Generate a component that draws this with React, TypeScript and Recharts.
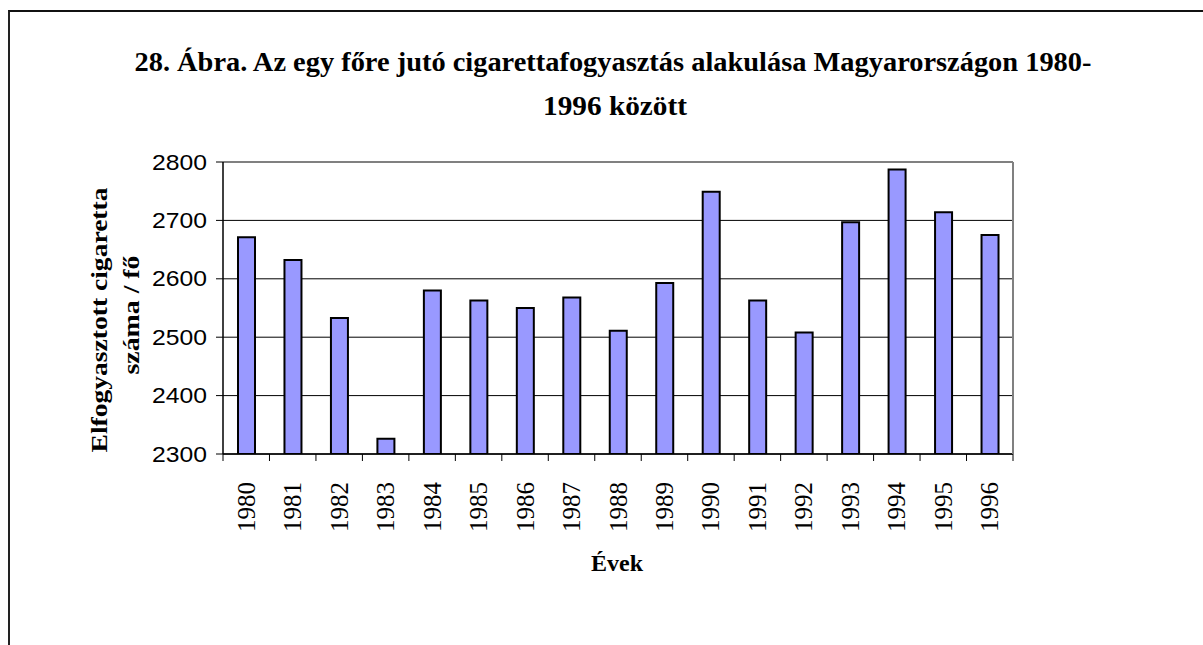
import React from 'react';
import {
  BarChart, Bar, XAxis, YAxis, CartesianGrid, ReferenceLine,
} from 'recharts';

const YEARS = [
  '1980', '1981', '1982', '1983', '1984', '1985', '1986', '1987', '1988',
  '1989', '1990', '1991', '1992', '1993', '1994', '1995', '1996',
];

// cigarettes smoked per person per year
const CONSUMPTION = [
  2671, 2632, 2533, 2326, 2580, 2563, 2550, 2568, 2511,
  2593, 2749, 2563, 2508, 2697, 2787, 2714, 2675,
];

const Y_TICKS = [2300, 2400, 2500, 2600, 2700, 2800];

const TITLE_LINES = [
  '28. Ábra. Az egy főre jutó cigarettafogyasztás alakulása Magyarországon 1980-',
  '1996 között',
];
const Y_TITLE_LINES = ['Elfogyasztott cigaretta', 'száma / fő'];
const X_TITLE = 'Évek';

const W = 1203;
const H = 645;
const PLOT_LEFT = 223;
const PLOT_RIGHT = 1013;
const PLOT_TOP = 162;
const PLOT_BOTTOM = 454;
const Y_AXIS_W = 70;
const X_AXIS_H = 110;
const BAND = (PLOT_RIGHT - PLOT_LEFT) / YEARS.length;

const SERIF = '"Liberation Serif", "Times New Roman", serif';
const SANS = '"Liberation Sans", Arial, sans-serif';

const data = YEARS.map((year, i) => ({ year, value: CONSUMPTION[i] }));

// year labels stand vertically; tick marks sit on the category boundaries
const XTick = ({ x, y, payload, index }: any) => {
  const half = BAND / 2;
  const ty = y + 28;
  return (
    <g>
      <line x1={x - half} x2={x - half} y1={y} y2={y + 7} stroke="#000" />
      {index === YEARS.length - 1 && (
        <line x1={x + half} x2={x + half} y1={y} y2={y + 7} stroke="#000" />
      )}
      <text
        x={x}
        y={ty}
        transform={`rotate(-90 ${x} ${ty})`}
        textAnchor="end"
        dominantBaseline="central"
        fontFamily={SERIF}
        fontSize={25}
        fill="#000"
      >
        {payload.value}
      </text>
    </g>
  );
};

const YTick = ({ x, y, payload }: any) => (
  <text
    x={x}
    y={y}
    textAnchor="end"
    dominantBaseline="central"
    fontFamily={SANS}
    fontSize={22}
    textLength={55}
    lengthAdjust="spacingAndGlyphs"
    fill="#000"
  >
    {payload.value}
  </text>
);

export default function App() {
  return (
    <div style={{ position: 'fixed', left: 0, top: 0, width: W, height: H, overflow: 'hidden', background: '#fff' }}>
      <div
        style={{
          position: 'absolute', left: 8, top: 10, width: 1300, height: 700,
          borderTop: '2px solid #111', borderLeft: '2px solid #222',
        }}
      />
      <div style={{ position: 'absolute', left: 0, top: 0 }}>
        <BarChart
          width={W}
          height={H}
          data={data}
          margin={{
            top: PLOT_TOP,
            left: PLOT_LEFT - Y_AXIS_W,
            right: W - PLOT_RIGHT - 1,
            bottom: H - PLOT_BOTTOM - X_AXIS_H,
          }}
        >
          <CartesianGrid vertical={false} stroke="#000" strokeWidth={1} />
          <XAxis
            dataKey="year"
            interval={0}
            height={X_AXIS_H}
            axisLine={{ stroke: '#000', strokeWidth: 1.5 }}
            tickLine={false}
            tickSize={0}
            tickMargin={0}
            tick={<XTick />}
          />
          <YAxis
            domain={[2300, 2800]}
            ticks={Y_TICKS}
            width={Y_AXIS_W}
            axisLine={{ stroke: '#000', strokeWidth: 1.5 }}
            tickLine={{ stroke: '#000' }}
            tickSize={7}
            tickMargin={9}
            tick={<YTick />}
            allowDataOverflow
          />
          <YAxis
            yAxisId="right"
            orientation="right"
            domain={[2300, 2800]}
            width={1}
            axisLine={{ stroke: '#808080', strokeWidth: 2 }}
            tick={false}
            tickLine={false}
          />
          <ReferenceLine y={2800} stroke="#808080" strokeWidth={2} />
          <Bar
            dataKey="value"
            fill="#9999ff"
            stroke="#000"
            strokeWidth={2}
            barSize={17}
            isAnimationActive={false}
          />
        </BarChart>
      </div>
      <svg
        width={W}
        height={H}
        style={{ position: 'absolute', left: 0, top: 0, pointerEvents: 'none' }}
      >
        <text
          x={613} y={71} textAnchor="middle" fontFamily={SERIF} fontWeight="bold"
          fontSize={28} textLength={957} lengthAdjust="spacingAndGlyphs" fill="#000"
        >
          {TITLE_LINES[0]}
        </text>
        <text
          x={615} y={115} textAnchor="middle" fontFamily={SERIF} fontWeight="bold"
          fontSize={28} textLength={144} lengthAdjust="spacingAndGlyphs" fill="#000"
        >
          {TITLE_LINES[1]}
        </text>
        <text
          x={99} y={320} transform="rotate(-90 99 320)" textAnchor="middle"
          dominantBaseline="central" fontFamily={SERIF} fontWeight="bold" fontSize={24}
          textLength={265} lengthAdjust="spacingAndGlyphs" fill="#000"
        >
          {Y_TITLE_LINES[0]}
        </text>
        <text
          x={131} y={315} transform="rotate(-90 131 315)" textAnchor="middle"
          dominantBaseline="central" fontFamily={SERIF} fontWeight="bold" fontSize={24}
          textLength={119} lengthAdjust="spacingAndGlyphs" fill="#000"
        >
          {Y_TITLE_LINES[1]}
        </text>
        <text
          x={617} y={571} textAnchor="middle" fontFamily={SERIF} fontWeight="bold"
          fontSize={24} fill="#000"
        >
          {X_TITLE}
        </text>
      </svg>
    </div>
  );
}
